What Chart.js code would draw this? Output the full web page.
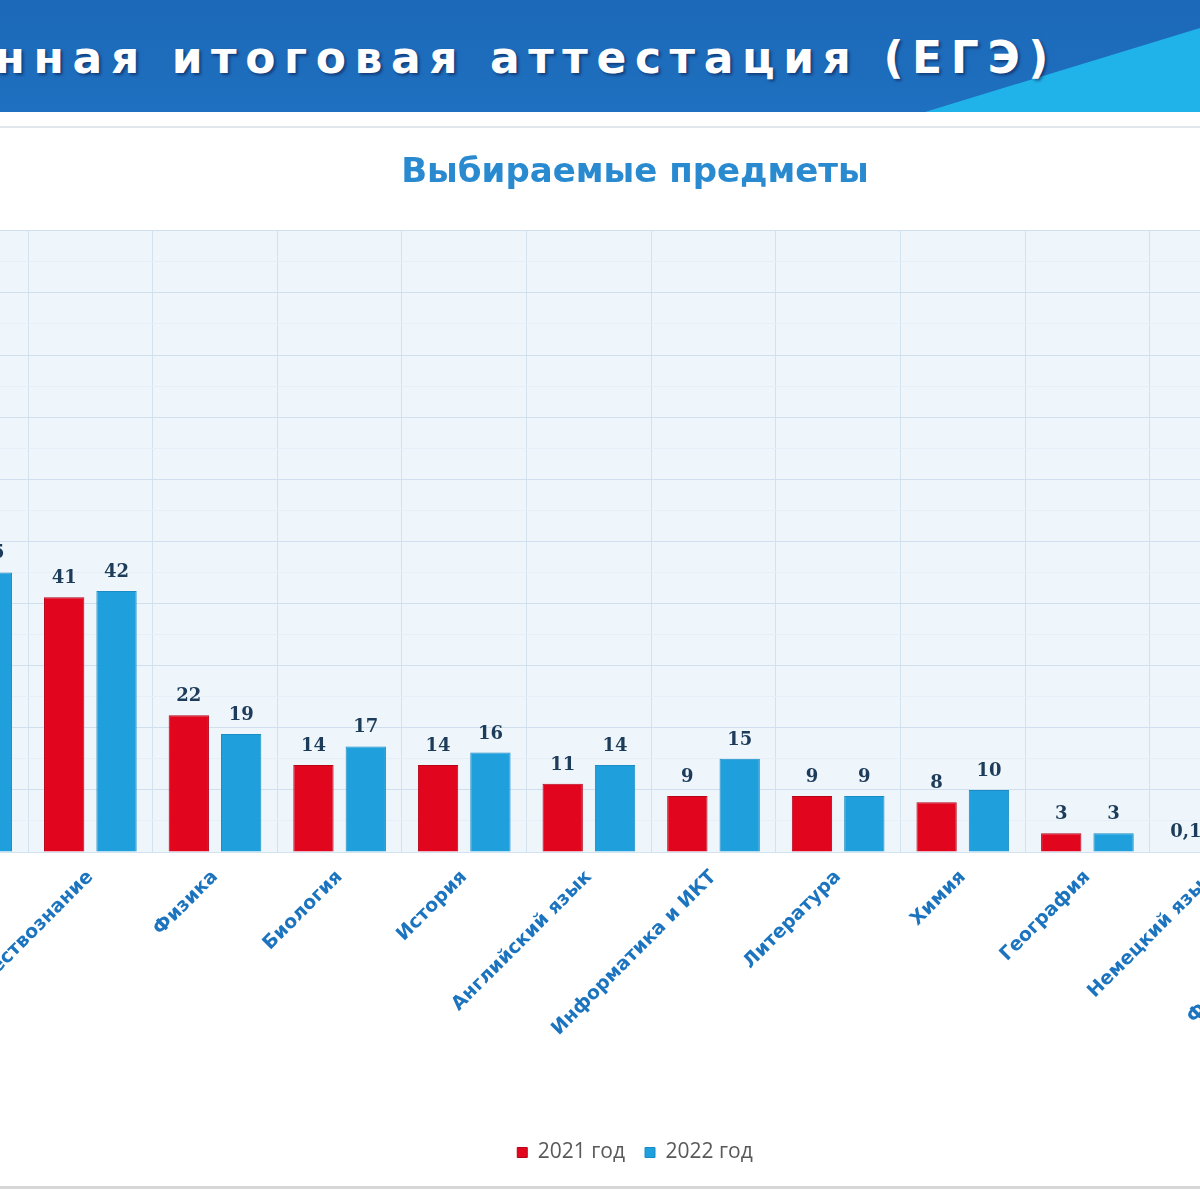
<!DOCTYPE html>
<html lang="ru">
<head>
<meta charset="utf-8">
<script src="https://cdn.jsdelivr.net/npm/chart.js@4.4.0/dist/chart.umd.min.js"></script>
<style>
  html, body { margin: 0; padding: 0; width: 1200px; height: 1200px; overflow: hidden; background: #ffffff; }
  #banner { position: absolute; left: 0; top: 0; width: 1200px; height: 112px; background: linear-gradient(#1c68b8, #1f70c0); overflow: hidden; }
  #tri { position: absolute; left: 0; top: 0; width: 1200px; height: 112px; background: #20b3ea; clip-path: polygon(925px 112px, 1200px 28px, 1200px 112px); }
  #bannerText { position: absolute; right: 143px; top: 23px; white-space: nowrap; color: #ffffff; font-family: "DejaVu Sans", sans-serif; font-weight: bold; font-size: 44px; letter-spacing: 8.6px; line-height: 70px; text-shadow: 2px 2px 3px rgba(0,0,40,0.45); }
  #sepTop { position: absolute; left: 0; top: 126px; width: 1200px; height: 2px; background: #e2e7ec; }
  #sepBottom { position: absolute; left: 0; top: 1186px; width: 1200px; height: 3px; background: #d6d6d6; z-index: 5; }
  #wrap { position: absolute; left: -129px; top: 120px; width: 1529px; height: 1080px; }
</style>
</head>
<body>
<div id="banner"><div id="tri"></div><div id="bannerText">Государственная итоговая аттестация (ЕГЭ)</div></div>
<div id="sepTop"></div>
<div id="wrap"><canvas id="c"></canvas></div>
<div id="sepBottom"></div>
<script>
const categories = [
  "Математика (профильная)",
  "Обществознание",
  "Физика",
  "Биология",
  "История",
  "Английский язык",
  "Информатика и ИКТ",
  "Литература",
  "Химия",
  "География",
  "Немецкий язык",
  "Французский язык"
];
const values2021 = [47, 41, 22, 14, 14, 11, 9, 9, 8, 3, 0.1, 0.1];
const values2022 = [45, 42, 19, 17, 16, 14, 15, 9, 10, 3, 0.2, 0.1];
const seriesNames = ["2021 год", "2022 год"];
const chartTitle = "Выбираемые предметы";

const plotBg = {
  id: 'plotBg',
  beforeDraw(chart) {
    const a = chart.chartArea, ctx = chart.ctx;
    ctx.save();
    ctx.fillStyle = '#eef5fb';
    ctx.fillRect(a.left, a.top, a.right - a.left, a.bottom - a.top);
    ctx.restore();
  }
};

const valueLabels = {
  id: 'valueLabels',
  afterDatasetsDraw(chart) {
    const ctx = chart.ctx;
    ctx.save();
    ctx.font = 'bold 18px "DejaVu Serif", serif';
    ctx.fillStyle = '#1d3c5a';
    ctx.textAlign = 'center';
    ctx.textBaseline = 'alphabetic';
    chart.data.datasets.forEach((ds, di) => {
      const meta = chart.getDatasetMeta(di);
      meta.data.forEach((bar, i) => {
        const v = ds.data[i];
        ctx.fillText(String(v).replace('.', ','), bar.x, bar.y - 14);
      });
    });
    ctx.restore();
  }
};

new Chart(document.getElementById('c'), {
  type: 'bar',
  data: {
    labels: categories,
    datasets: [
      { label: seriesNames[0], data: values2021, backgroundColor: '#e1061d', borderColor: '#b80418', borderWidth: 1 },
      { label: seriesNames[1], data: values2022, backgroundColor: '#1fa0dc', borderColor: '#1a8cc6', borderWidth: 1 }
    ]
  },
  options: {
    responsive: true,
    maintainAspectRatio: false,
    animation: false,
    devicePixelRatio: 1,
    layout: { padding: { top: 0, left: 0, right: 1, bottom: 27 } },
    datasets: { bar: { categoryPercentage: 0.84, barPercentage: 0.77 } },
    plugins: {
      title: {
        display: true,
        text: chartTitle,
        color: '#2a8ad0',
        font: { family: '"DejaVu Sans", sans-serif', size: 34, weight: 'bold' },
        padding: { top: 33, bottom: 37 }
      },
      legend: {
        position: 'bottom',
        labels: {
          boxWidth: 10,
          boxHeight: 10,
          padding: 20,
          color: '#595959',
          font: { family: '"Open Sans", sans-serif', size: 21 }
        }
      },
      tooltip: { enabled: false }
    },
    scales: {
      x: {
        grid: { color: '#d3e2ef', offset: true, drawTicks: false },
        border: { color: '#d3e2ef' },
        ticks: {
          color: '#1c74bf',
          font: { family: '"DejaVu Sans", sans-serif', size: 19, weight: 'bold' },
          minRotation: 45,
          maxRotation: 45,
          padding: 14,
          autoSkip: false
        },
        afterFit(scale) {
          scale.height = 270;
          scale.paddingLeft = 0;
          scale.paddingRight = 0;
        }
      },
      y: {
        min: 0,
        max: 100,
        ticks: { display: false, stepSize: 5 },
        grid: {
          drawTicks: false,
          color: (ctx) => (ctx.tick && ctx.tick.value % 10 === 0) ? '#cfdfee' : '#e6eef7'
        },
        border: { display: false },
        afterFit(scale) {
          scale.width = 32.4;
          scale.paddingTop = 0;
          scale.paddingBottom = 0;
        }
      }
    }
  },
  plugins: [plotBg, valueLabels]
});
</script>
</body>
</html>
